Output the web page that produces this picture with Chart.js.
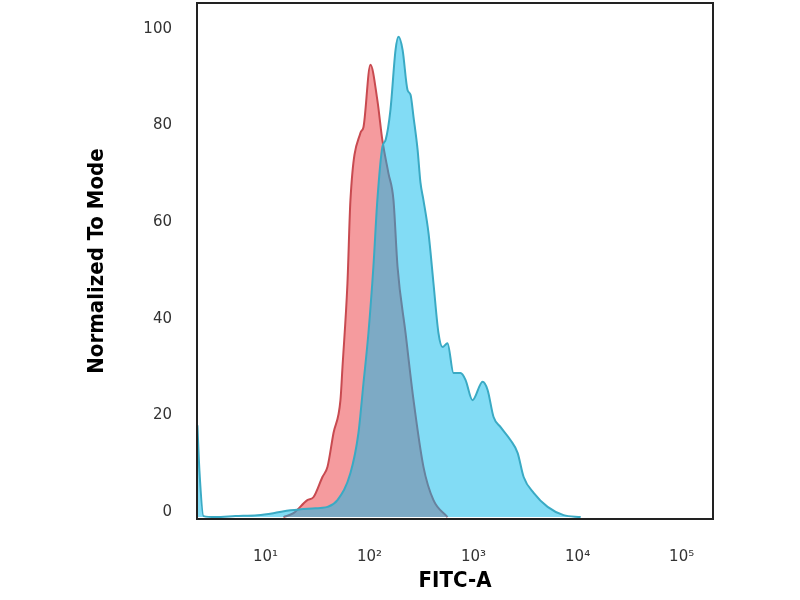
<!DOCTYPE html>
<html>
<head>
<meta charset="utf-8">
<style>
  html, body { margin: 0; padding: 0; background: #fff; }
  #wrap { width: 800px; height: 600px; }
</style>
<script src="https://cdn.jsdelivr.net/npm/chart.js@4/dist/chart.umd.min.js"></script>
</head>
<body>
<div id="wrap"><canvas id="myChart" width="800" height="600"></canvas></div>
<script>
'use strict'

// isotype control (red) - FITC value / normalized count
const redX = [14.9, 18.6, 25.3, 28.9, 35.3, 39.5, 45.1, 52.6, 55, 61.4, 65.6, 81.8, 87.5, 102, 119, 133, 152, 170, 186, 222, 265, 330, 412, 562];
const redY = [0, 0.8, 3.5, 4.1, 8.3, 10.4, 17.4, 24.2, 31, 48.4, 65.6, 79.5, 80.7, 93.6, 86.3, 78, 71.2, 65.6, 51.8, 38.1, 24.2, 10.4, 3.5, 0];

// stained sample (blue)
const blueX = [2.22, 2.32, 2.54, 3.3, 5.15, 8.4, 11.9, 17.4, 21.7, 30.2, 33.8, 39.5, 49.2, 65.6, 78.3, 87.5, 97.7, 109, 119, 133, 143, 159, 178, 190, 208, 232, 248, 265, 290, 309, 330, 369, 412, 460, 503, 562, 642, 750, 837, 977, 1222, 1365, 1557, 1820, 2270, 2650, 3030, 3780, 5150, 7330, 10700];
const blueY = [19, 9.7, 0.2, 0, 0.2, 0.4, 0.8, 1.4, 1.6, 1.8, 1.9, 2.1, 3.5, 9.1, 17.4, 27.7, 38.1, 51.8, 65.6, 76.6, 78.1, 84.3, 96.7, 99.4, 96.7, 88.4, 87.4, 82.8, 76, 69.2, 65.6, 58.8, 48.4, 38.1, 35.2, 36, 29.8, 29.8, 28.4, 24.2, 28, 26.3, 20.7, 18.6, 15.9, 13.3, 8.3, 5, 2.1, 0.4, 0];

const xTicks = [10, 100, 1000, 10000, 100000];
const xTickLabels = ['10\u00B9', '10\u00B2', '10\u00B3', '10\u2074', '10\u2075'];
const yTicks = [0, 20, 40, 60, 80, 100];

function toPoints(xs, ys){
  let pts = [];
  for (let i = 0; i < xs.length; i++){
    pts.push({x: xs[i], y: ys[i]});
  }
  return pts;
}

const framePlugin = {
  id: 'frame',
  afterDraw(chart){
    const a = chart.chartArea;
    const ctx = chart.ctx;
    ctx.save();
    ctx.strokeStyle = '#222';
    ctx.lineWidth = 2;
    ctx.strokeRect(a.left, a.top, a.right - a.left, a.bottom - a.top);
    ctx.restore();
  }
};

const tickFont = {family: "'DejaVu Sans', sans-serif", size: 15};
const titleFamily = "'Liberation Sans Narrow', 'DejaVu Sans Condensed', 'Liberation Sans', sans-serif";

const ctx = document.getElementById('myChart').getContext('2d');

// dataset 0 is drawn last, so the blue sits over the red
const myChart = new Chart(ctx, {
  type: 'scatter',
  data: {
    datasets: [{
      label: 'Sample',
      data: toPoints(blueX, blueY),
      showLine: true,
      fill: 'origin',
      backgroundColor: 'rgba(5, 185, 235, 0.5)',
      borderColor: 'rgb(58, 170, 196)',
      borderWidth: 2,
      pointRadius: 0,
      cubicInterpolationMode: 'monotone'
    },
    {
      label: 'Isotype',
      data: toPoints(redX, redY),
      showLine: true,
      fill: 'origin',
      backgroundColor: 'rgb(245, 155, 158)',
      borderColor: 'rgb(200, 74, 80)',
      borderWidth: 2,
      pointRadius: 0,
      cubicInterpolationMode: 'monotone'
    }]
  },
  options: {
    responsive: false,
    animation: false,
    layout: {padding: {top: 3, right: 87, left: 0, bottom: 0}},
    plugins: {
      legend: {display: false},
      tooltip: {enabled: false}
    },
    scales: {
      x: {
        type: 'logarithmic',
        min: 2.2,
        max: 200000,
        grid: {display: false, drawTicks: false},
        border: {display: false},
        afterBuildTicks: (scale) => {
          scale.ticks = xTicks.map(v => ({value: v}));
        },
        afterFit: (scale) => {
          scale.height = 81;
          scale.paddingLeft = 0;
          scale.paddingRight = 0;
        },
        ticks: {
          padding: 29,
          color: '#333',
          font: tickFont,
          autoSkip: false,
          maxRotation: 0,
          callback: (value) => {
            const i = xTicks.indexOf(value);
            return i >= 0 ? xTickLabels[i] : '';
          }
        },
        title: {
          display: true,
          text: 'FITC-A',
          color: '#000',
          font: {family: titleFamily, size: 22, weight: 'bold'},
          padding: {top: 0, bottom: 6}
        }
      },
      y: {
        min: -0.4,
        max: 106.4,
        grid: {display: false, drawTicks: false},
        border: {display: false},
        afterBuildTicks: (scale) => {
          scale.ticks = yTicks.map(v => ({value: v}));
        },
        afterFit: (scale) => {
          scale.width = 197;
          scale.paddingTop = 0;
          scale.paddingBottom = 0;
        },
        ticks: {
          padding: 25,
          labelOffset: -5,
          color: '#333',
          font: tickFont
        },
        title: {
          display: true,
          text: 'Normalized To Mode',
          color: '#000',
          font: {family: titleFamily, size: 22, weight: 'bold'},
          padding: {top: 84, bottom: 0}
        }
      }
    }
  },
  plugins: [framePlugin]
});
</script>
</body>
</html>
